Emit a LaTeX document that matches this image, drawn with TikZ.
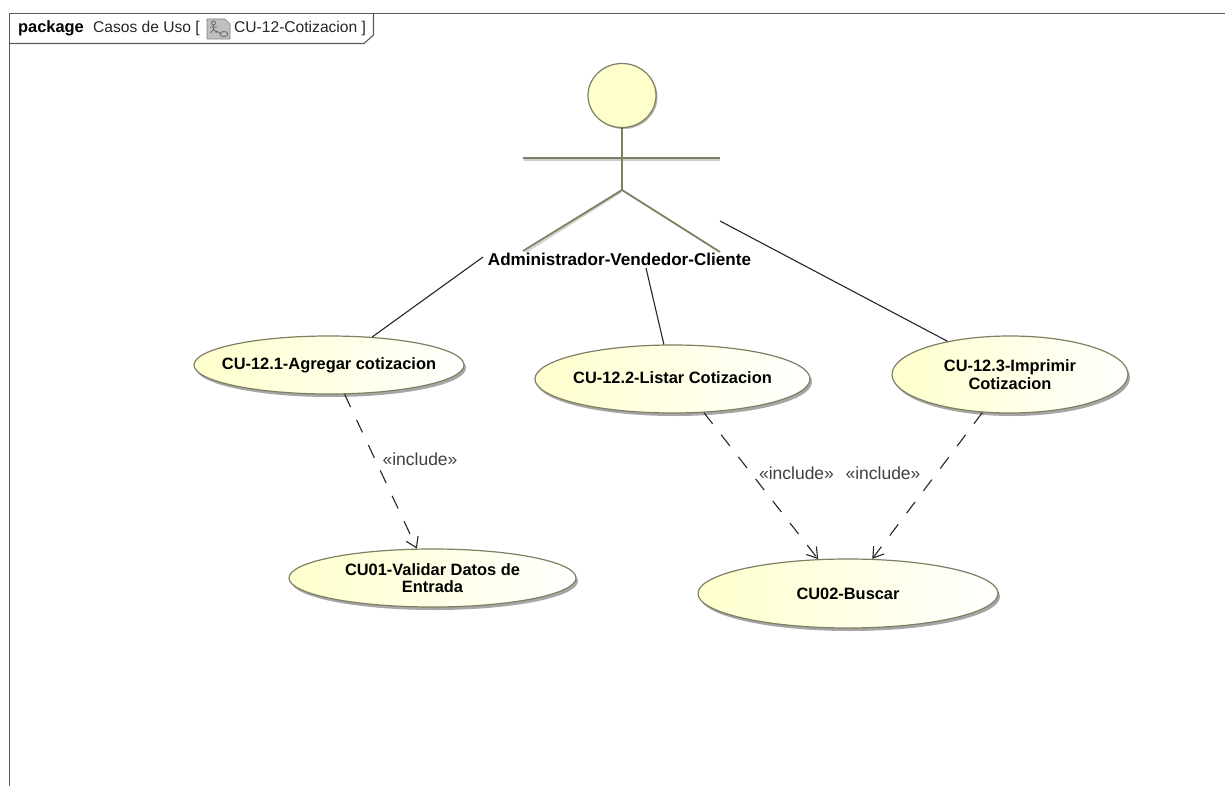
\documentclass[tikz,border=0pt]{standalone}
\usepackage{fontspec}
\setmainfont{Liberation Sans}
\usetikzlibrary{arrows.meta,shapes.geometric,shadows}
\definecolor{ucfill}{HTML}{FFFFCC}
\definecolor{ucedge}{HTML}{7F7F62}
\definecolor{labelgray}{HTML}{404040}
\newcommand{\uctext}[1]{\makebox[0pt][c]{#1}}
\tikzset{
  x=1pt,y=-1pt,
  usecase/.style={ellipse,draw=ucedge,line width=1.2pt,left color=ucfill,right color=white,inner sep=0pt,
    align=center,font=\bfseries\fontsize{16.4}{17.5}\selectfont,text=black,
    drop shadow={shadow xshift=2pt,shadow yshift=-3pt,fill=black,opacity=.35}},
  assoc/.style={draw=black!85,line width=1.1pt},
  incl/.style={draw=black!85,line width=1.1pt,dash pattern=on 14pt off 14pt,-{Straight Barb[length=10pt,width=13pt,line width=1.1pt]}},
  incllabel/.style={font=\fontsize{17.5}{20}\selectfont,text=labelgray,inner sep=0pt},
  actorline/.style={draw=ucedge,line width=1.8pt},
  actorshadow/.style={draw=black!20,line width=1.6pt},
  tabtext/.style={font=\fontsize{15.6}{18}\selectfont,inner sep=0pt,anchor=base west,text=black!85},
}
\begin{document}
\begin{tikzpicture}
\useasboundingbox[fill=white] (0,0) rectangle (1225,786);
% frame
\draw[draw=black!65,line width=1.1pt] (9.5,786) -- (9.5,13.5) -- (1225,13.5);
\draw[draw=black!65,line width=1.1pt] (9.5,43.5) -- (364,43.5) -- (373.5,35) -- (373.5,13.5);
\node[tabtext,font=\bfseries\fontsize{16.4}{18}\selectfont,text=black] (kw) at (18,33) {package};
\node[tabtext] (pk) at (93,33) {Casos de Uso [};
\node[tabtext] (dn) at (234,33) {CU-12-Cotizacion ]};
% icon
\fill[black!25] (207,19) -- (225,19) -- (230,24) -- (230,39) -- (207,39) -- cycle;
\draw[black!50,line width=.6pt] (207,19) -- (225,19) -- (230,24) -- (230,39) -- (207,39) -- cycle;
\draw[black!60,line width=.8pt] (213.5,23) circle (2);
\draw[black!60,line width=.8pt] (213.5,25) -- (213.5,29) (210,27) -- (217,27) (213.5,29) -- (210.5,33) (213.5,29) -- (216.5,33) (216,31) -- (220,33);
\draw[black!60,line width=.8pt] (224,34) ellipse (4 and 2.5);
% actor
\draw[actorshadow] (621,192) -- (526,252);
\draw[actorshadow] (524,160) -- (720,160);
\draw[actorline] (622,127) -- (622,190);
\draw[actorline] (523,158) -- (720,158);
\draw[actorline] (622,190) -- (523,251);
\draw[actorline] (622,190) -- (720,252);
\node[ellipse,draw=ucedge,line width=1.2pt,fill=ucfill,inner sep=0pt,minimum width=68pt,minimum height=64pt,
  drop shadow={shadow xshift=1.5pt,shadow yshift=-1.5pt,fill=black,opacity=.3}] (head) at (622,95.5) {};
\node[font=\bfseries\fontsize{17.1}{19}\selectfont,inner sep=0pt] (actor) at (619.5,259) {Administrador-Vendedor-Cliente};
\coordinate (a1) at (483,257);
\coordinate (a2) at (646,268);
\coordinate (a3) at (720,221);
% use cases
\node[usecase,minimum width=270pt,minimum height=58pt] (u1) at (329,365) {\uctext{CU-12.1-Agregar cotizacion}};
\node[usecase,minimum width=275pt,minimum height=68pt] (u2) at (672.5,379) {\raisebox{2pt}{\uctext{CU-12.2-Listar Cotizacion}}};
\node[usecase,minimum width=236pt,minimum height=77pt] (u3) at (1010,374.5) {\uctext{CU-12.3-Imprimir}\\\uctext{Cotizacion}};
\node[usecase,minimum width=287pt,minimum height=58pt] (u4) at (432.5,578) {\uctext{CU01-Validar Datos de}\\\uctext{Entrada}};
\node[usecase,minimum width=300pt,minimum height=69pt] (u5) at (848,593.5) {\uctext{CU02-Buscar}};
% associations
\draw[assoc] (a1) -- (u1.33);
\draw[assoc] (a2) -- (u2.104.5);
\draw[assoc] (a3) -- (u3.152);
% includes
\draw[incl] (u1.-62.6) -- (u4.118);
\draw[incl] (u2.-47.7) -- (u5.131);
\draw[incl] (u3.-126) -- (u5.55.5);
\node[incllabel] (l1) at (420,459) {«include»};
\node[incllabel] (l2) at (796.5,473) {«include»};
\node[incllabel] (l3) at (883,473) {«include»};
\end{tikzpicture}
\end{document}
